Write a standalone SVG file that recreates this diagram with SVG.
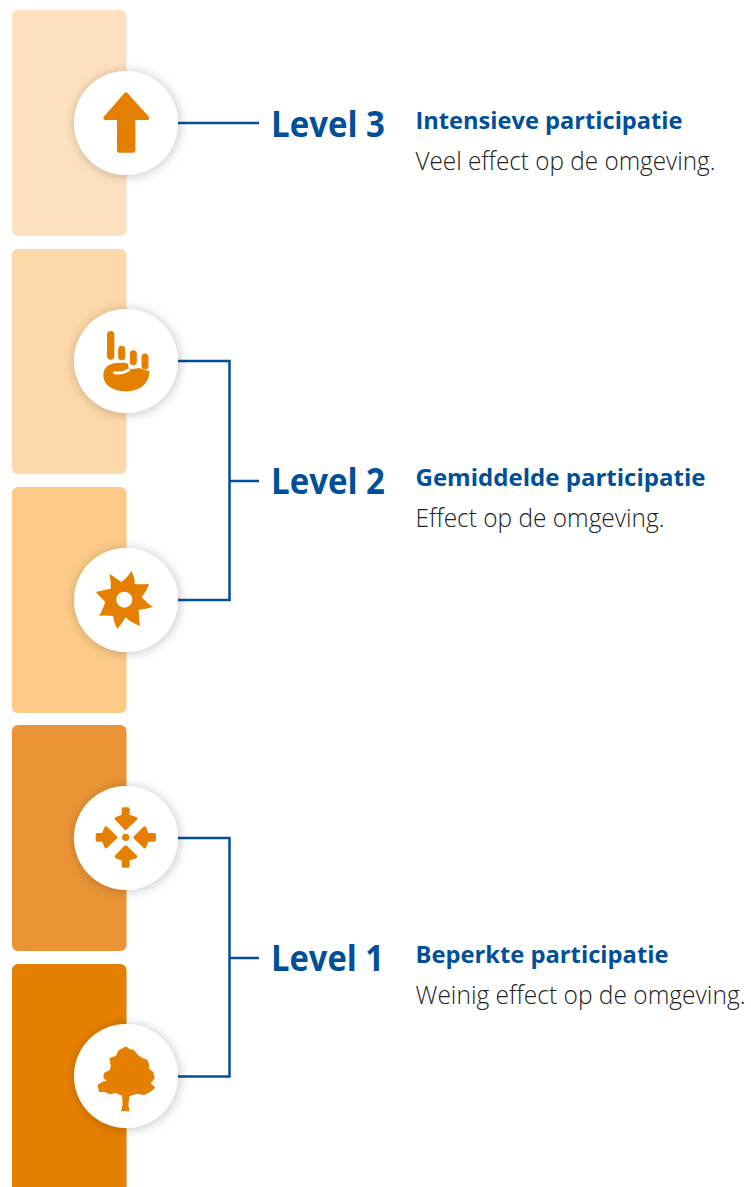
<svg xmlns="http://www.w3.org/2000/svg" width="751" height="1187" viewBox="0 0 751 1187">
<defs>
<filter id="sh" x="-40%" y="-40%" width="180%" height="180%"><feDropShadow dx="1" dy="1" stdDeviation="6" flood-color="#000" flood-opacity="0.24"/></filter>
</defs>
<style>
.lv{font:700 35px "Open Sans","Noto Sans",sans-serif;fill:#004f98}
.hd{font:700 24px "Open Sans","Noto Sans",sans-serif;fill:#004f98}
.bd{font:300 25px "Open Sans","Noto Sans",sans-serif;fill:#222}
.ic{fill:#e57f00}
.ar{fill:#e57f00;stroke:#e57f00;stroke-width:10;stroke-linejoin:round}
.conn{fill:none;stroke:#004f98;stroke-width:2.5}
.c{fill:#fff;filter:url(#sh)}
</style>
<rect width="751" height="1187" fill="#fff"/>
<g id="bars">
<rect x="12" y="10" width="114.500" height="226" rx="6" fill="#fde1bf"/>
<rect x="12" y="249" width="114.500" height="225" rx="6" fill="#fdd8a8"/>
<rect x="12" y="487" width="114.500" height="226" rx="6" fill="#fdcb87"/>
<rect x="12" y="725" width="114.500" height="226" rx="6" fill="#ea9435"/>
<rect x="12" y="964" width="114.500" height="233" rx="6" fill="#e57f00"/>
</g>
<g id="connectors" class="conn">
<path d="M178 123H259"/>
<path d="M178 361H229.500V600H178M229.500 481H259"/>
<path d="M178 838H229.500V1076.500H178M229.500 958H259"/>
</g>
<g id="node-arrow"><circle class="c" cx="126" cy="123" r="52"/>
<path class="ic" transform="translate(60 60) scale(.3333)" stroke="#e57f00" stroke-width="12" stroke-linejoin="round" d="M198 103L262 174H220V272H177V174H136Z"/></g>
<g id="node-hand"><circle class="c" cx="126" cy="361" r="52"/>
<g transform="translate(60 300) scale(.3333)">
<g fill="none" stroke="#e57f00" stroke-width="22" stroke-linecap="round"><path d="M152 104V168"/></g>
<g fill="none" stroke="#e57f00" stroke-width="21" stroke-linecap="round"><path d="M185 148V170M220 161V185M255 171V198"/></g>
<path class="ic" d="M130 226C130 200 150 188 180 188H196Q206 190 205 198Q204 206 214 208L240 204Q246 210 268 212C270 248 240 274 198 274C160 274 130 256 130 226Z"/>
<path fill="none" stroke="#fff" stroke-width="9" stroke-linecap="round" d="M164 218Q186 222 206 210"/>
</g></g>
<g id="node-flower"><circle class="c" cx="126" cy="600" r="52"/>
<path class="ic" fill-rule="evenodd" transform="translate(60 540) scale(.3333)" d="M148 101Q170 115 184 126Q205 110 214 92Q226 115 224 132Q250 134 268 131Q258 155 245 172Q262 190 278 201Q258 208 236 209Q236 235 240 258Q215 250 197 232Q185 252 172 267Q160 245 160 228Q140 226 118 227Q130 205 136 186Q120 170 108 156Q130 150 152 146Q154 125 148 101ZM193 155A24 24 0 1 0 193.100 203A24 24 0 1 0 193 155Z"/></g>
<g id="node-arrows"><circle class="c" cx="126" cy="838" r="52"/>
<g transform="translate(60 780) scale(.3333)">
<circle class="ic" cx="197" cy="172" r="11"/>
<path class="ar" d="M197 145L169 116L190 108V87H204V108L227 116Z"/>
<path class="ar" d="M197 201L169 230L190 238V258H204V238L227 230Z"/>
<path class="ar" d="M167 172L138 144L130 164H112V180H130L138 200Z"/>
<path class="ar" d="M225 172L254 144L262 164H283V180H262L254 200Z"/>
</g></g>
<g id="node-tree"><circle class="c" cx="126" cy="1076" r="52"/>
<path class="ic" transform="translate(60 1015) scale(.3333)" d="M198 94L208 102L222 105L234 120L246 128L262 134L268 150L266 160L280 172L284 190L272 204L286 218L272 230L252 240L232 236L208 244L205 270L209 289H183L188 268L186 242L168 234L150 238L132 230L118 232L112 210L128 200L140 198L130 188L132 174L150 164L152 150L148 130L168 122L176 106Z"/></g>
<g id="label-3">
<text class="lv" x="271" y="137" textLength="114" lengthAdjust="spacingAndGlyphs">Level 3</text>
<text class="hd" x="415.500" y="129" textLength="267" lengthAdjust="spacingAndGlyphs">Intensieve participatie</text>
<text class="bd" x="415.500" y="170" textLength="300" lengthAdjust="spacingAndGlyphs">Veel effect op de omgeving.</text>
</g>
<g id="label-2">
<text class="lv" x="271" y="494" textLength="114" lengthAdjust="spacingAndGlyphs">Level 2</text>
<text class="hd" x="415.500" y="486" textLength="290" lengthAdjust="spacingAndGlyphs">Gemiddelde participatie</text>
<text class="bd" x="415.500" y="527" textLength="249" lengthAdjust="spacingAndGlyphs">Effect op de omgeving.</text>
</g>
<g id="label-1">
<text class="lv" x="271" y="971" textLength="113" lengthAdjust="spacingAndGlyphs">Level 1</text>
<text class="hd" x="415.500" y="963" textLength="253" lengthAdjust="spacingAndGlyphs">Beperkte participatie</text>
<text class="bd" x="415.500" y="1004" textLength="330" lengthAdjust="spacingAndGlyphs">Weinig effect op de omgeving.</text>
</g>
</svg>
